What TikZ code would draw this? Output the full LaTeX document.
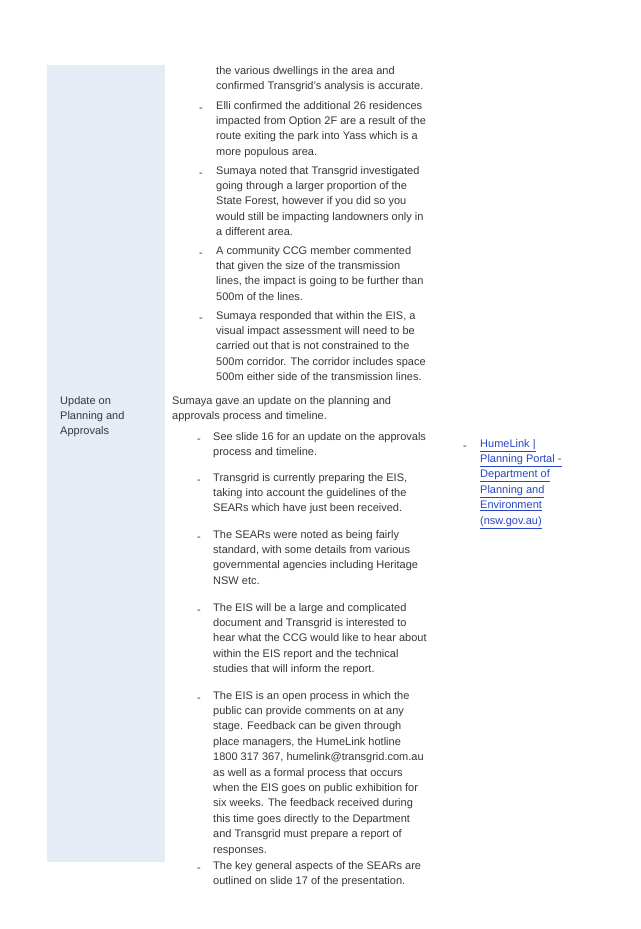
\documentclass[tikz,border=0pt]{standalone}
\usepackage{fontspec}
\setmainfont{Liberation Sans}
\definecolor{ink}{RGB}{55,55,60}
\definecolor{sidebar}{RGB}{230,236,245}
\definecolor{linkblue}{RGB}{40,70,200}
\tikzset{
  para/.style={anchor=north west, inner sep=0pt, align=left, text=ink,
    font=\fontsize{11}{15.4}\selectfont},
  bulletmark/.style={anchor=north west, inner sep=0pt, text=ink,
    font=\fontsize{11}{15.4}\selectfont}
}
\begin{document}
\begin{tikzpicture}[x=1pt,y=-1pt]
\useasboundingbox (0,0) rectangle (640,929);
\fill[white] (0,0) rectangle (640,929);
\fill[sidebar] (47,65) rectangle (165,862);
% column one
\node[para] (p1) at (216,66) {the various dwellings in the area and\\confirmed Transgrid's analysis is accurate.};
\node[bulletmark] (d2) at (199,101) {\strut-};
\node[para] (p2) at (216,101) {Elli confirmed the additional 26 residences\\impacted from Option 2F are a result of the\\route exiting the park into Yass which is a\\more populous area.};
\node[bulletmark] (d3) at (199,166) {\strut-};
\node[para] (p3) at (216,166) {Sumaya noted that Transgrid investigated\\going through a larger proportion of the\\State Forest, however if you did so you\\would still be impacting landowners only in\\a different area.};
\node[bulletmark] (d4) at (199,246) {\strut-};
\node[para] (p4) at (216,246) {A community CCG member commented\\that given the size of the transmission\\lines, the impact is going to be further than\\500m of the lines.};
\node[bulletmark] (d5) at (199,311) {\strut-};
\node[para] (p5) at (216,311) {Sumaya responded that within the EIS, a\\visual impact assessment will need to be\\carried out that is not constrained to the\\500m corridor. The corridor includes space\\500m either side of the transmission lines.};
% planning and approvals
\node[para] (topic) at (60,396) {Update on\\Planning and\\Approvals};
\node[para] (intro) at (172,396) {Sumaya gave an update on the planning and\\approvals process and timeline.};
\node[bulletmark] (d6) at (197,432) {\strut-};
\node[para] (p6) at (213,432) {See slide 16 for an update on the approvals\\process and timeline.};
\node[bulletmark] (d7) at (197,473) {\strut-};
\node[para] (p7) at (213,473) {Transgrid is currently preparing the EIS,\\taking into account the guidelines of the\\SEARs which have just been received.};
\node[bulletmark] (d8) at (197,530) {\strut-};
\node[para] (p8) at (213,530) {The SEARs were noted as being fairly\\standard, with some details from various\\governmental agencies including Heritage\\NSW etc.};
\node[bulletmark] (d9) at (197,603) {\strut-};
\node[para] (p9) at (213,603) {The EIS will be a large and complicated\\document and Transgrid is interested to\\hear what the CCG would like to hear about\\within the EIS report and the technical\\studies that will inform the report.};
\node[bulletmark] (d10) at (197,691) {\strut-};
\node[para] (p10) at (213,691) {The EIS is an open process in which the\\public can provide comments on at any\\stage. Feedback can be given through\\place managers, the HumeLink hotline\\1800 317 367, humelink@transgrid.com.au\\as well as a formal process that occurs\\when the EIS goes on public exhibition for\\six weeks. The feedback received during\\this time goes directly to the Department\\and Transgrid must prepare a report of\\responses.};
\node[bulletmark] (d11) at (197,861) {\strut-};
\node[para] (p11) at (213,861) {The key general aspects of the SEARs are\\outlined on slide 17 of the presentation.};
% resources
\node[bulletmark] (d12) at (463,439) {\strut-};
\node[para, text=linkblue] (link) at (480,439) {\underline{HumeLink |}\\\underline{Planning Portal -}\\\underline{Department of}\\\underline{Planning and}\\\underline{Environment}\\\underline{(nsw.gov.au)}};
\end{tikzpicture}
\end{document}
